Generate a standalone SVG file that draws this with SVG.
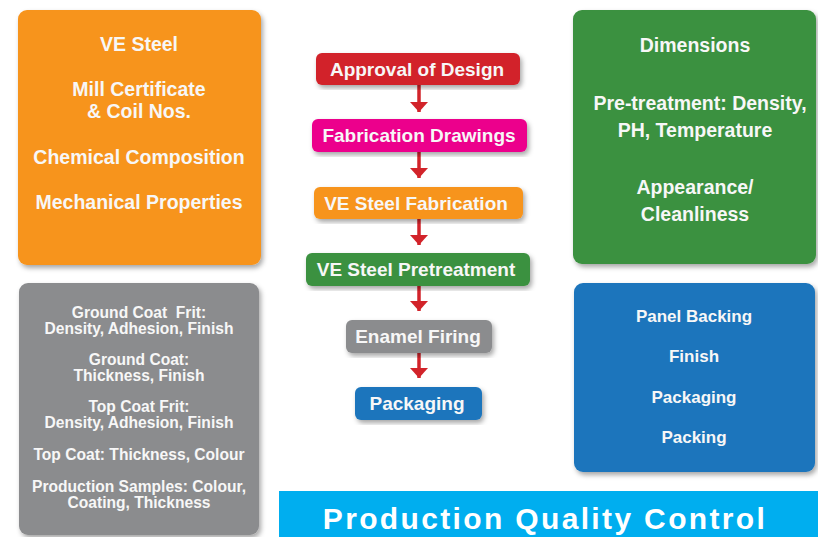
<svg xmlns="http://www.w3.org/2000/svg" width="818" height="537" viewBox="0 0 818 537">
<defs>
<filter id="sh" x="-10%" y="-10%" width="125%" height="125%">
<feDropShadow dx="2" dy="3" stdDeviation="2.5" flood-color="#000" flood-opacity="0.35"/>
</filter>
<marker id="ah" viewBox="0 0 10 18" refX="10" refY="9" markerWidth="10" markerHeight="18" markerUnits="userSpaceOnUse" orient="auto">
<path d="M0,0 L10,9 L0,18 Z" fill="#d2232a"/>
</marker>
</defs>
<style>
text{font-family:"Liberation Sans",Arial,sans-serif;font-weight:bold;fill:#f7f7f7;text-anchor:middle}
.big{font-size:19.5px}
.mid{font-size:15.6px}
.blu{font-size:17px}
.flow{font-size:19px}
.title{font-size:30px;letter-spacing:2.35px;fill:#fff}
.conn{stroke:#d2232a;stroke-width:3.5;fill:none}
</style>
<rect width="818" height="537" fill="#fff"/>

<g id="box-steel">
<rect x="18" y="10" width="243" height="255" rx="9" fill="#f7941d" filter="url(#sh)"/>
<text class="big" x="139" y="51">VE Steel</text>
<text class="big" x="139" y="96">Mill Certificate</text>
<text class="big" x="139" y="118">&amp; Coil Nos.</text>
<text class="big" x="139" y="164">Chemical Composition</text>
<text class="big" x="139" y="209">Mechanical Properties</text>
</g>

<g id="box-pretreat">
<rect x="573" y="10" width="243" height="254" rx="9" fill="#3b913f" filter="url(#sh)"/>
<text class="big" x="695" y="52">Dimensions</text>
<text class="big" x="700" y="110">Pre-treatment: Density,</text>
<text class="big" x="695" y="137">PH, Temperature</text>
<text class="big" x="695" y="194">Appearance/</text>
<text class="big" x="695" y="221">Cleanliness</text>
</g>

<g id="box-enamel">
<rect x="19" y="283" width="240" height="252" rx="9" fill="#8b8c8e" filter="url(#sh)"/>
<text class="mid" x="139" y="318" xml:space="preserve">Ground Coat  Frit:</text>
<text class="mid" x="139" y="334">Density, Adhesion, Finish</text>
<text class="mid" x="139" y="365">Ground Coat:</text>
<text class="mid" x="139" y="381">Thickness, Finish</text>
<text class="mid" x="139" y="412">Top Coat Frit:</text>
<text class="mid" x="139" y="428">Density, Adhesion, Finish</text>
<text class="mid" x="139" y="460">Top Coat: Thickness, Colour</text>
<text class="mid" x="139" y="492">Production Samples: Colour,</text>
<text class="mid" x="139" y="508">Coating, Thickness</text>
</g>

<g id="box-packaging">
<rect x="574" y="283" width="241" height="189" rx="9" fill="#1c75bc" filter="url(#sh)"/>
<text class="blu" x="694" y="322">Panel Backing</text>
<text class="blu" x="694" y="362">Finish</text>
<text class="blu" x="694" y="403">Packaging</text>
<text class="blu" x="694" y="443">Packing</text>
</g>

<g id="connectors">
<line class="conn" x1="419" y1="85" x2="419" y2="112" marker-end="url(#ah)"/>
<line class="conn" x1="419" y1="152" x2="419" y2="178" marker-end="url(#ah)"/>
<line class="conn" x1="419" y1="219" x2="419" y2="245" marker-end="url(#ah)"/>
<line class="conn" x1="419" y1="286" x2="419" y2="311" marker-end="url(#ah)"/>
<line class="conn" x1="419" y1="353" x2="419" y2="378" marker-end="url(#ah)"/>
</g>

<g id="step-approval">
<rect x="316" y="53" width="204" height="32" rx="6" fill="#d2232a" filter="url(#sh)"/>
<text class="flow" x="417" y="76">Approval of Design</text>
</g>
<g id="step-drawings">
<rect x="312" y="119" width="215" height="33" rx="6" fill="#ec008c" filter="url(#sh)"/>
<text class="flow" x="419" y="142">Fabrication Drawings</text>
</g>
<g id="step-fabrication">
<rect x="314" y="187" width="209" height="32" rx="6" fill="#f7941d" filter="url(#sh)"/>
<text class="flow" x="416" y="210">VE Steel Fabrication</text>
</g>
<g id="step-pretreatment">
<rect x="306" y="253" width="224" height="33" rx="6" fill="#3b913f" filter="url(#sh)"/>
<text class="flow" x="416" y="276">VE Steel Pretreatment</text>
</g>
<g id="step-firing">
<rect x="346" y="320" width="146" height="33" rx="6" fill="#8b8c8e" filter="url(#sh)"/>
<text class="flow" x="418" y="343">Enamel Firing</text>
</g>
<g id="step-packaging">
<rect x="355" y="387" width="127" height="33" rx="6" fill="#1c75bc" filter="url(#sh)"/>
<text class="flow" x="417" y="410">Packaging</text>
</g>

<g id="title">
<rect x="279" y="491" width="539" height="46" fill="#00aeef"/>
<text class="title" x="545" y="529">Production Quality Control</text>
</g>
</svg>
